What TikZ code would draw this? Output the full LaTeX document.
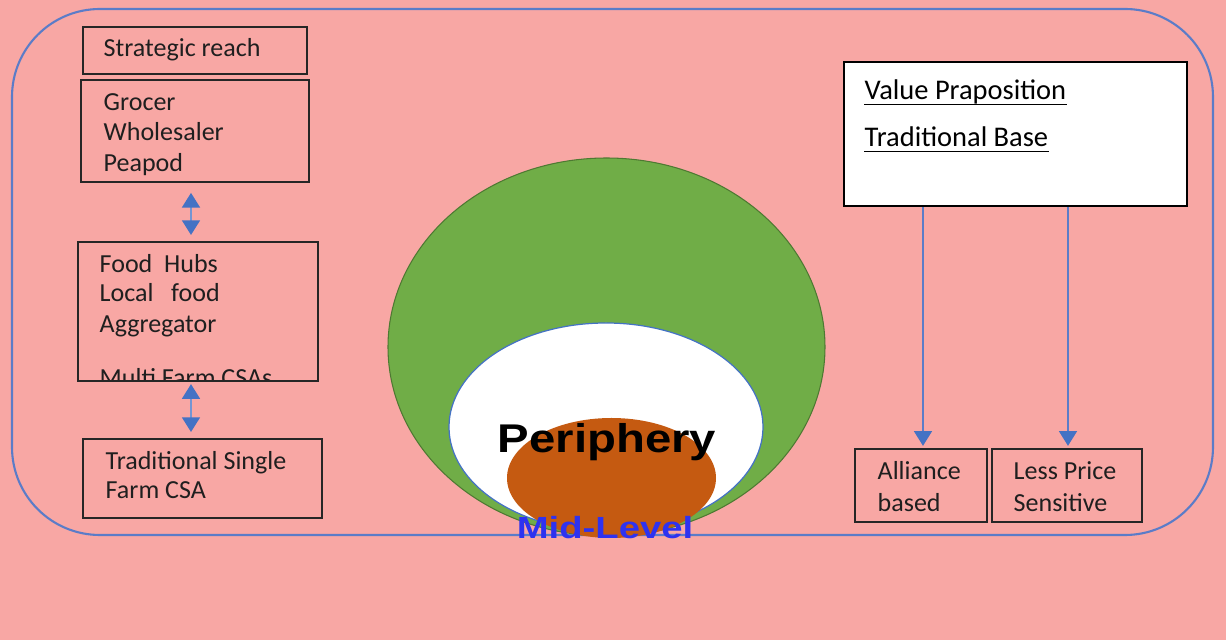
\documentclass[tikz,border=0pt]{standalone}
\usepackage{fontspec}
\setmainfont{Carlito}
\newfontfamily\headfont{Liberation Sans}
\usetikzlibrary{arrows.meta,fit}

\definecolor{pageRose}{HTML}{F8A7A4}
\definecolor{frameBlue}{HTML}{5B7CC8}
\definecolor{arrowBlue}{HTML}{4472C4}
\definecolor{boxLine}{HTML}{262626}
\definecolor{outerGreen}{HTML}{70AD47}
\definecolor{coreBrown}{HTML}{C55A11}
\definecolor{midBlue}{HTML}{2E32F0}

\tikzset{
  box/.style={draw=boxLine, line width=0.55pt, inner sep=0pt},
  txt/.style={inner sep=0pt, anchor=base west, text=black!88,
    font=\fontsize{7.4}{9}\selectfont},
  bigtxt/.style={txt, text=black, font=\fontsize{8.1}{10}\selectfont},
  link/.style={arrowBlue!75, line width=0.85pt,
    {Triangle[width=5pt,length=4.2pt,color=arrowBlue]}-{Triangle[width=5pt,length=4.2pt,color=arrowBlue]}},
  drop/.style={frameBlue, line width=0.8pt,
    -{Triangle[width=5pt,length=4.2pt,color=arrowBlue]}}
}

\begin{document}
\begin{tikzpicture}[x=0.01cm,y=-0.01cm]
\fill[pageRose] (0,0) rectangle (1226,640);
\useasboundingbox (0,0) rectangle (1226,640);
\draw[frameBlue, line width=0.6pt, rounded corners=25pt] (12,9) rectangle (1213,535);

% market levels
\draw[outerGreen!70!black, line width=0.3pt, fill=outerGreen] (606.5,347) ellipse [x radius=218.5, y radius=189];
\draw[arrowBlue, line width=0.35pt, fill=white] (606,427) ellipse [x radius=157, y radius=104];
\fill[coreBrown] (611.5,478) ellipse [x radius=104.5, y radius=60];
\node[anchor=base, inner sep=0pt, font=\headfont\bfseries\fontsize{11.4}{12}\selectfont] (periphery) at (607,453)
  {\scalebox{1.18}[1]{Periphery}};
\node[anchor=base, inner sep=0pt, text=midBlue, font=\headfont\bfseries\fontsize{8.7}{10}\selectfont] (midlevel) at (605,539)
  {\scalebox{1.25}[1]{Mid-Level}};

% strategic reach column
\node[box, fit={(83,27) (307,74)}] (reach) {};
\node[txt] (reachTxt) at (103,57) {Strategic reach};
\node[box, fit={(81,80) (309,182)}] (grocer) {};
\foreach \ty/\tx [count=\i] in {111/Grocer,141/Wholesaler,172/Peapod}
  \node[txt] (grocer\i) at (103,\ty) {\tx};
\begin{scope}
  \clip (78,242) rectangle (318,381);
  \foreach \ty/\tx [count=\i] in {273/Food~~Hubs,302/Local~~~food,333/Aggregator,387/Multi Farm CSAs}
    \node[txt] (food\i) at (99,\ty) {\tx};
\end{scope}
\node[box, fit={(78,242) (318,381)}] (food) {};
\node[box, fit={(83,439) (322,518)}] (single) {};
\foreach \ty/\tx [count=\i] in {470/Traditional Single,499/Farm CSA}
  \node[txt] (single\i) at (105,\ty) {\tx};

\coordinate (spine) at (191,0);
\draw[link, shorten <=2.8pt, shorten >=1.7pt] (grocer.south -| spine) -- (food.north -| spine);
\draw[link, shorten <=0.6pt, shorten >=1.7pt] (food.south -| spine) -- (single.north -| spine);

% value proposition
\node[draw=black, line width=0.6pt, fill=white, inner sep=0pt, fit={(844,62) (1187,206)}] (value) {};
\node[bigtxt] (valueTxt) at (864,100) {Value Praposition};
\node[bigtxt] (baseTxt) at (864,147) {Traditional Base};
\foreach \n in {valueTxt,baseTxt}
  \draw[line width=0.45pt] ([yshift=-1.3pt]\n.base west) -- ([yshift=-1.3pt]\n.base east);

\node[box, fit={(855,449) (987,522)}] (alliance) {};
\node[box, fit={(992,449) (1142,522)}] (price) {};
\foreach \ty/\tx [count=\i] in {480/Alliance,512/based}
  \node[txt] (alliance\i) at (877,\ty) {\tx};
\foreach \ty/\tx [count=\i] in {480/Less Price,512/Sensitive}
  \node[txt] (price\i) at (1013,\ty) {\tx};

\draw[drop, shorten >=0.6pt] (value.south -| 923,0) -- (alliance.north -| 923,0);
\draw[drop, shorten >=0.6pt] (value.south -| 1068,0) -- (price.north -| 1068,0);
\end{tikzpicture}
\end{document}
